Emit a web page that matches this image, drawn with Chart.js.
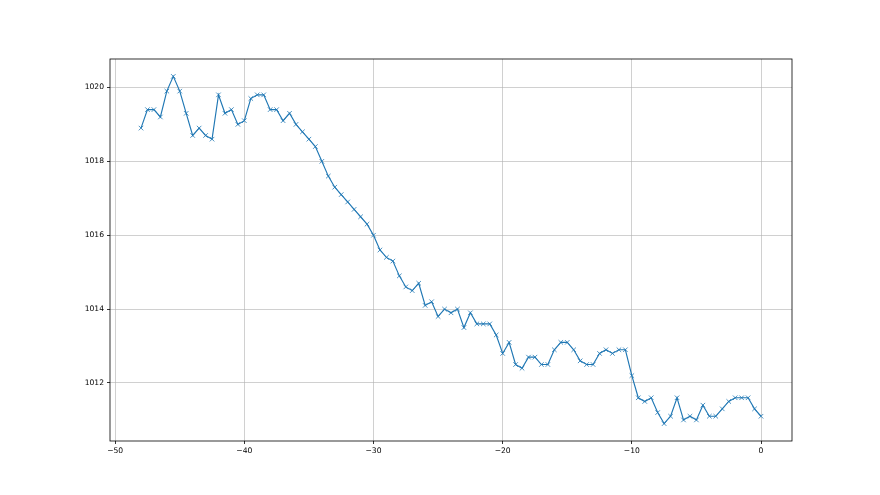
<!DOCTYPE html>
<html>
<head>
<meta charset="utf-8">
<script src="https://cdn.jsdelivr.net/npm/chart.js@4/dist/chart.umd.min.js"></script>
<style>
  html, body { margin: 0; padding: 0; background: #fff; }
  canvas { display: block; }
</style>
</head>
<body>
<canvas id="chart" width="880" height="495"></canvas>
<script>
// x positions of the samples
var xValues = [
    -48, -47.5, -47, -46.5, -46, -45.5, -45, -44.5, -44, -43.5,
    -43, -42.5, -42, -41.5, -41, -40.5, -40, -39.5, -39, -38.5,
    -38, -37.5, -37, -36.5, -36, -35.5, -35, -34.5, -34, -33.5,
    -33, -32.5, -32, -31.5, -31, -30.5, -30, -29.5, -29, -28.5,
    -28, -27.5, -27, -26.5, -26, -25.5, -25, -24.5, -24, -23.5,
    -23, -22.5, -22, -21.5, -21, -20.5, -20, -19.5, -19, -18.5,
    -18, -17.5, -17, -16.5, -16, -15.5, -15, -14.5, -14, -13.5,
    -13, -12.5, -12, -11.5, -11, -10.5, -10, -9.5, -9, -8.5,
    -8, -7.5, -7, -6.5, -6, -5.5, -5, -4.5, -4, -3.5,
    -3, -2.5, -2, -1.5, -1, -0.5, 0
];

// pressure readings
var pressure = [
    1018.9, 1019.4, 1019.4, 1019.2, 1019.9, 1020.3, 1019.9, 1019.3, 1018.7, 1018.9,
    1018.7, 1018.6, 1019.8, 1019.3, 1019.4, 1019.0, 1019.1, 1019.7, 1019.8, 1019.8,
    1019.4, 1019.4, 1019.1, 1019.3, 1019.0, 1018.8, 1018.6, 1018.4, 1018.0, 1017.6,
    1017.3, 1017.1, 1016.9, 1016.7, 1016.5, 1016.3, 1016.0, 1015.6, 1015.4, 1015.3,
    1014.9, 1014.6, 1014.5, 1014.7, 1014.1, 1014.2, 1013.8, 1014.0, 1013.9, 1014.0,
    1013.5, 1013.9, 1013.6, 1013.6, 1013.6, 1013.3, 1012.8, 1013.1, 1012.5, 1012.4,
    1012.7, 1012.7, 1012.5, 1012.5, 1012.9, 1013.1, 1013.1, 1012.9, 1012.6, 1012.5,
    1012.5, 1012.8, 1012.9, 1012.8, 1012.9, 1012.9, 1012.2, 1011.6, 1011.5, 1011.6,
    1011.2, 1010.9, 1011.1, 1011.6, 1011.0, 1011.1, 1011.0, 1011.4, 1011.1, 1011.1,
    1011.3, 1011.5, 1011.6, 1011.6, 1011.6, 1011.3, 1011.1
];

var xTicks = [-50, -40, -30, -20, -10, 0];
var yTicks = [1012, 1014, 1016, 1018, 1020];

var points = [];
for (let i = 0; i < xValues.length; i++) {
    points.push({ x: xValues[i], y: pressure[i] });
}

function minusSign(v) {
    return String(v).replace('-', '\u2212');
}

// box around the plot area, like matplotlib spines
var frame = {
    id: 'frame',
    afterDraw: function (chart) {
        let a = chart.chartArea;
        let ctx = chart.ctx;
        ctx.save();
        ctx.strokeStyle = '#000';
        ctx.lineWidth = 0.8;
        ctx.strokeRect(a.left, a.top, a.right - a.left, a.bottom - a.top);
        ctx.restore();
    }
};

var tickFont = { family: 'DejaVu Sans', size: 7.6 };

new Chart(document.getElementById('chart'), {
    type: 'scatter',
    data: {
        datasets: [{
            data: points,
            showLine: true,
            borderColor: '#1f77b4',
            borderWidth: 1.15,
            pointStyle: 'crossRot',
            pointRadius: 3.2,
            pointBorderWidth: 0.8,
            pointBorderColor: '#1f77b4',
            pointBackgroundColor: '#1f77b4',
            pointHoverRadius: 3.2,
            tension: 0
        }]
    },
    options: {
        responsive: false,
        devicePixelRatio: 1,
        animation: false,
        layout: { padding: { left: 0, top: 59, right: 88, bottom: 0 } },
        plugins: {
            legend: { display: false },
            tooltip: { enabled: false }
        },
        scales: {
            x: {
                type: 'linear',
                min: -50.4,
                max: 2.4,
                afterBuildTicks: function (scale) {
                    scale.ticks = xTicks.map(v => ({ value: v }));
                },
                afterFit: function (scale) { scale.height = 54; },
                border: { display: false },
                grid: {
                    color: 'rgba(176,176,176,0.75)',
                    lineWidth: 0.8,
                    tickColor: '#000',
                    tickLength: 3
                },
                ticks: {
                    font: tickFont,
                    color: '#000',
                    padding: 2,
                    maxRotation: 0,
                    callback: function (v) { return minusSign(v); }
                }
            },
            y: {
                type: 'linear',
                min: 1010.43,
                max: 1020.77,
                afterBuildTicks: function (scale) {
                    scale.ticks = yTicks.map(v => ({ value: v }));
                },
                afterFit: function (scale) { scale.width = 110; },
                border: { display: false },
                grid: {
                    color: 'rgba(176,176,176,0.75)',
                    lineWidth: 0.8,
                    tickColor: '#000',
                    tickLength: 3
                },
                ticks: {
                    font: tickFont,
                    color: '#000',
                    padding: 3,
                    callback: function (v) { return String(v); }
                }
            }
        }
    },
    plugins: [frame]
});
</script>
</body>
</html>
